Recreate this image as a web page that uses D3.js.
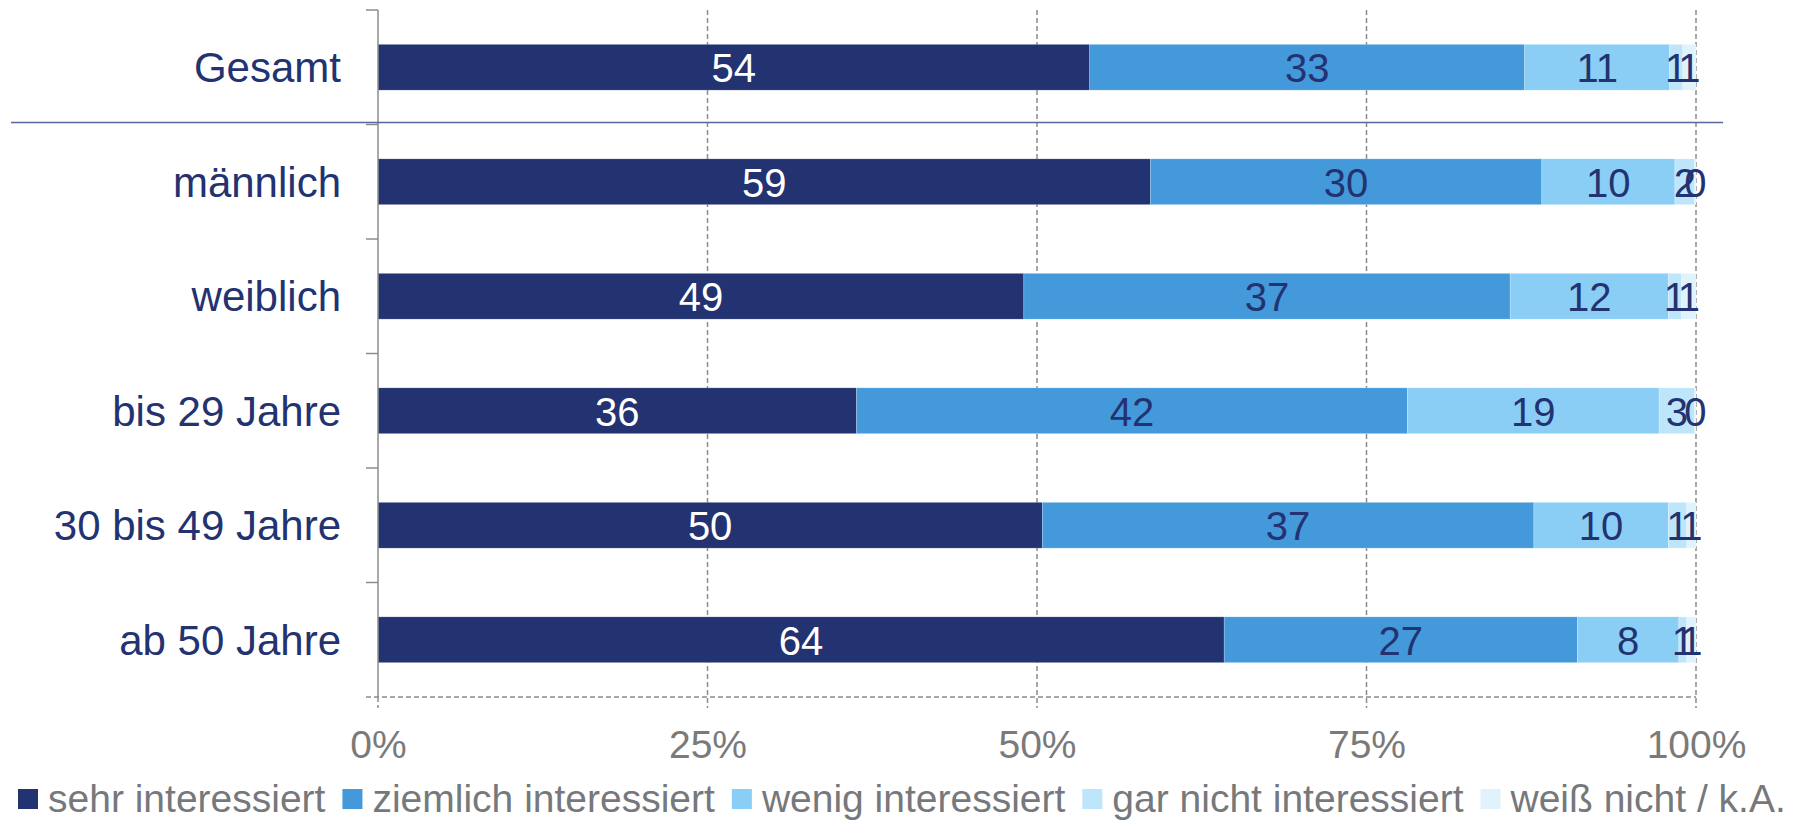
<!DOCTYPE html>
<html>
<head>
<meta charset="utf-8">
<script src="https://cdn.jsdelivr.net/npm/d3@7"></script>
<style>
  body { margin: 0; background: #fff; }
  svg { display: block; font-family: 'Liberation Sans', Arial, sans-serif; }
</style>
</head>
<body>
<svg id="chart" width="1800" height="820"></svg>
<script>
// categories (top to bottom)
var categories = ['Gesamt', 'männlich', 'weiblich', 'bis 29 Jahre', '30 bis 49 Jahre', 'ab 50 Jahre']
var seriesNames = ['sehr interessiert', 'ziemlich interessiert', 'wenig interessiert', 'gar nicht interessiert', 'weiß nicht / k.A.']
var seriesColors = ['#233270', '#4499db', '#8acdf5', '#bde6fb', '#e0f3fd']
var labelColors = ['#ffffff', '#233270', '#233270', '#233270', '#233270']

// percent values per series, one per category
var sehr = [54.0, 58.6, 49.0, 36.3, 50.4, 64.2]
var ziemlich = [33.0, 29.7, 36.9, 41.8, 37.3, 26.8]
var wenig = [11.0, 10.1, 12.0, 19.1, 10.2, 7.7]
var garNicht = [1.0, 1.5, 1.0, 2.7, 1.4, 0.6]
var weissNicht = [1.0, 0.1, 1.1, 0.1, 0.7, 0.7]

var xTicks = [0, 25, 50, 75, 100]

var svg = d3.select('#chart')

var x = d3.scaleLinear().domain([0, 100]).range([378, 1696])
var y = d3.scaleBand().domain(categories).range([10, 697])
    .paddingInner(0.6).paddingOuter(0.3)

var rows = categories.map((c, i) => {
  var vals = [sehr[i], ziemlich[i], wenig[i], garNicht[i], weissNicht[i]]
  return {cat: c, vals: vals}
})

var stack = d3.stack()
    .keys(d3.range(seriesNames.length))
    .value((d, k) => d.vals[k])
var layers = stack(rows)

var gridColor = '#8c8c8c'

/*
    grid lines (dashed)
*/
svg.append('g')
    .selectAll('line')
    .data(xTicks.slice(1))
    .join('line')
    .attr('x1', d => x(d))
    .attr('x2', d => x(d))
    .attr('y1', 10)
    .attr('y2', 708)
    .attr('stroke', gridColor)
    .attr('stroke-width', 1.5)
    .attr('stroke-dasharray', '5,3')

// bottom axis line, dashed
svg.append('line')
    .attr('x1', 366).attr('x2', x(100))
    .attr('y1', 697).attr('y2', 697)
    .attr('stroke', gridColor)
    .attr('stroke-width', 1.5)
    .attr('stroke-dasharray', '5,3')

svg.append('line')
    .attr('x1', x(0)).attr('x2', x(0))
    .attr('y1', 697).attr('y2', 708)
    .attr('stroke', gridColor)
    .attr('stroke-width', 1.5)
    .attr('stroke-dasharray', '5,3')

/*
    bars
*/
var groups = svg.append('g')
    .selectAll('g')
    .data(layers)
    .join('g')
    .attr('fill', (d, i) => seriesColors[i])

groups.selectAll('rect')
    .data(d => d)
    .join('rect')
    .attr('x', d => x(d[0]))
    .attr('width', d => x(d[1]) - x(d[0]))
    .attr('y', d => y(d.data.cat))
    .attr('height', y.bandwidth())
    .attr('stroke', '#ffffff')
    .attr('stroke-opacity', 0.35)
    .attr('stroke-width', 0.6)

// value labels
var labels = svg.append('g')
    .selectAll('g')
    .data(layers)
    .join('g')
    .attr('fill', (d, i) => labelColors[i])

labels.selectAll('text')
    .data(d => d)
    .join('text')
    .attr('x', d => x((d[0] + d[1]) / 2))
    .attr('y', d => y(d.data.cat) + y.bandwidth() / 2 + 15)
    .attr('text-anchor', 'middle')
    .style('font-size', '40px')
    .text(d => Math.round(d[1] - d[0]))

/*
    y axis
*/
svg.append('line')
    .attr('x1', x(0)).attr('x2', x(0))
    .attr('y1', 10).attr('y2', 697)
    .attr('stroke', gridColor)
    .attr('stroke-width', 1.5)

svg.append('g')
    .selectAll('line')
    .data(d3.range(categories.length))
    .join('line')
    .attr('x1', 366).attr('x2', x(0))
    .attr('y1', i => y.range()[0] + i * y.step())
    .attr('y2', i => y.range()[0] + i * y.step())
    .attr('stroke', gridColor)
    .attr('stroke-width', 1.5)

svg.append('g')
    .selectAll('text')
    .data(categories)
    .join('text')
    .attr('x', 341)
    .attr('y', d => y(d) + y.bandwidth() / 2 + 15)
    .attr('text-anchor', 'end')
    .attr('fill', '#233270')
    .style('font-size', '42px')
    .text(d => d)

// separator under Gesamt
svg.append('line')
    .attr('x1', 11).attr('x2', 1723)
    .attr('y1', 122.5).attr('y2', 122.5)
    .attr('stroke', '#5a6699')
    .attr('stroke-width', 1.3)

/*
    x axis labels
*/
var xAxis = d3.axisBottom(x)
    .tickValues(xTicks)
    .tickFormat(d => d + '%')
    .tickSize(0)
    .tickPadding(0)

var gx = svg.append('g')
    .attr('transform', 'translate(0,758)')
    .call(xAxis)
gx.select('.domain').remove()
gx.selectAll('text')
    .attr('dy', null)
    .attr('y', 0)
    .attr('fill', '#7a7a7a')
    .style('font-size', '39px')
    .style('font-family', "'Liberation Sans', Arial, sans-serif")

/*
    legend
*/
var legend = svg.append('g')
var lx = 18
seriesNames.forEach((name, i) => {
  legend.append('rect')
      .attr('x', lx).attr('y', 789)
      .attr('width', 20).attr('height', 20)
      .attr('fill', seriesColors[i])
  var t = legend.append('text')
      .attr('x', lx + 30)
      .attr('y', 812)
      .attr('fill', '#76787b')
      .style('font-size', '39px')
      .text(name)
  lx += 30 + t.node().getComputedTextLength() + 17
})
</script>
</body>
</html>
